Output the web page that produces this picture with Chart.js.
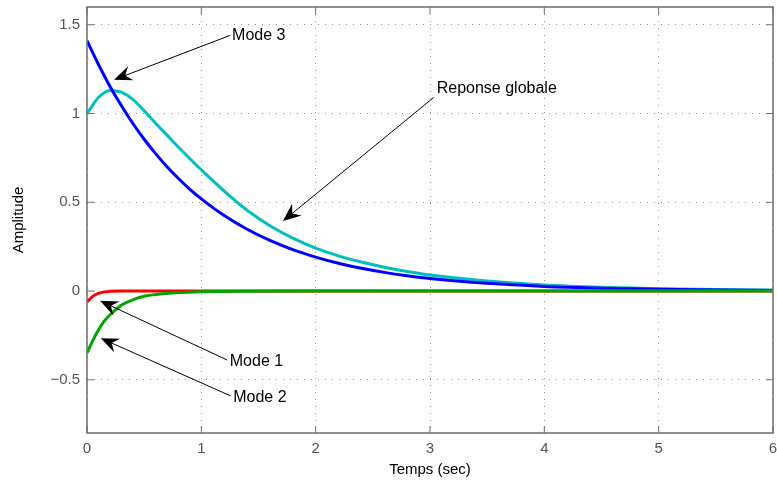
<!DOCTYPE html>
<html>
<head>
<meta charset="utf-8">
<script src="https://cdn.jsdelivr.net/npm/chart.js@4"></script>
<style>
  body { margin: 0; background: #fff; }
  #canvas { display: block; }
</style>
</head>
<body>
<canvas id="canvas" width="777" height="483"></canvas>
<script>
// values
const tGlobal = [0, 0.1, 0.2, 0.3, 0.4, 0.5, 0.6, 0.7, 0.8, 0.9, 1.0, 1.2, 1.4, 1.6, 1.8, 2.0, 2.2, 2.4, 2.6, 2.8, 3.0, 3.5, 4.0, 4.5, 5.0, 5.5, 6.0];
const reponseGlobale = [1.00, 1.09, 1.13, 1.12, 1.08, 1.015, 0.945, 0.878, 0.81, 0.745, 0.682, 0.563, 0.455, 0.368, 0.298, 0.242, 0.198, 0.163, 0.134, 0.11, 0.09, 0.056, 0.034, 0.021, 0.013, 0.008, 0.005];
const mode3 = [1.41, 1.276, 1.154, 1.045, 0.945, 0.855, 0.774, 0.700, 0.634, 0.573, 0.519, 0.425, 0.348, 0.285, 0.233, 0.191, 0.156, 0.128, 0.105, 0.086, 0.070, 0.043, 0.026, 0.016, 0.0095, 0.0058, 0.0035];

const tFast = [0, 0.05, 0.1, 0.15, 0.2, 0.3, 0.4, 0.5, 0.6, 0.8, 1.0, 1.5, 2.0, 3.0, 4.0, 5.0, 6.0];
const mode1 = [-0.062, -0.03, -0.013, -0.005, -0.002, 0, 0, 0, 0, 0, 0, 0, 0, 0, 0, 0, 0];
const mode2 = [-0.35, -0.28, -0.22, -0.17, -0.135, -0.08, -0.05, -0.03, -0.02, -0.009, -0.004, -0.001, 0, 0, 0, 0, 0];

const xTicks = [0, 1, 2, 3, 4, 5, 6];
const yTicks = [-0.5, 0, 0.5, 1, 1.5];

// annotation text: label, text anchor [t, amplitude], arrow tip [t, amplitude]
const notes = [
  { text: "Mode 3", at: [1.26, 1.44], tip: [0.236, 1.19] },
  { text: "Reponse globale", at: [3.05, 1.14], tip: [1.714, 0.394], from: [3.04, 1.09] },
  { text: "Mode 1", at: [1.24, -0.40], tip: [0.114, -0.055], from: [1.235, -0.389] },
  { text: "Mode 2", at: [1.27, -0.60], tip: [0.12, -0.266], from: [1.266, -0.591] }
];

function pts(xs, ys) {
  return xs.map((x, i) => ({ x: x, y: ys[i] }));
}

const boxPlugin = {
  id: 'box',
  afterDatasetsDraw(chart) {
    const ctx = chart.ctx;
    const a = chart.chartArea;
    const xs = chart.scales.x, ys = chart.scales.y;
    ctx.save();
    ctx.strokeStyle = '#6e6e6e';
    ctx.lineWidth = 1.5;
    ctx.strokeRect(a.left, a.top, a.right - a.left, a.bottom - a.top);
    ctx.lineWidth = 1;
    ctx.beginPath();
    xTicks.forEach(v => {
      const px = xs.getPixelForValue(v);
      ctx.moveTo(px, a.bottom); ctx.lineTo(px, a.bottom - 7);
      ctx.moveTo(px, a.top); ctx.lineTo(px, a.top + 7);
    });
    yTicks.forEach(v => {
      const py = ys.getPixelForValue(v);
      ctx.moveTo(a.left, py); ctx.lineTo(a.left + 7, py);
      ctx.moveTo(a.right, py); ctx.lineTo(a.right - 7, py);
    });
    ctx.stroke();
    ctx.restore();
  },
  afterDraw(chart) {
    const ctx = chart.ctx;
    const xs = chart.scales.x, ys = chart.scales.y;
    ctx.save();
    ctx.font = '16px "Liberation Sans", Arial, sans-serif';
    ctx.textBaseline = 'middle';
    ctx.fillStyle = '#000';
    ctx.strokeStyle = '#000';
    notes.forEach(n => {
      const tx = xs.getPixelForValue(n.at[0]), ty = ys.getPixelForValue(n.at[1]);
      const f = n.from || n.at;
      const x0 = xs.getPixelForValue(f[0]) - 1, y0 = ys.getPixelForValue(f[1]);
      const x1 = xs.getPixelForValue(n.tip[0]), y1 = ys.getPixelForValue(n.tip[1]);
      const ang = Math.atan2(y1 - y0, x1 - x0);
      ctx.lineWidth = 1;
      ctx.beginPath();
      ctx.moveTo(x0, y0);
      ctx.lineTo(x1 - 10 * Math.cos(ang), y1 - 10 * Math.sin(ang));
      ctx.stroke();
      ctx.save();
      ctx.translate(x1, y1);
      ctx.rotate(ang);
      ctx.beginPath();
      ctx.moveTo(0, 0);
      ctx.lineTo(-18, -7.5);
      ctx.lineTo(-12, 0);
      ctx.lineTo(-18, 7.5);
      ctx.closePath();
      ctx.fill();
      ctx.restore();
      ctx.fillText(n.text, tx + 1, ty);
    });
    ctx.restore();
  }
};

const ctx = document.getElementById('canvas').getContext('2d');
new Chart(ctx, {
  type: 'line',
  data: {
    datasets: [
      { label: 'Mode 2', data: pts(tFast, mode2), borderColor: '#00a600', borderWidth: 3, cubicInterpolationMode: 'monotone' },
      { label: 'Mode 1', data: pts(tFast, mode1), borderColor: '#ff0000', borderWidth: 3, cubicInterpolationMode: 'monotone' },
      { label: 'Mode 3', data: pts(tGlobal, mode3), borderColor: '#0000ff', borderWidth: 3, cubicInterpolationMode: 'monotone' },
      { label: 'Reponse globale', data: pts(tGlobal, reponseGlobale), borderColor: '#00bfbf', borderWidth: 3, cubicInterpolationMode: 'monotone' }
    ]
  },
  options: {
    responsive: false,
    animation: false,
    devicePixelRatio: 1,
    layout: { padding: { top: 7, right: 4, left: 0, bottom: 0 } },
    elements: { point: { radius: 0 }, line: { tension: 0, fill: false } },
    plugins: { legend: { display: false }, tooltip: { enabled: false } },
    scales: {
      x: {
        type: 'linear', min: 0, max: 6,
        afterBuildTicks: s => { s.ticks = xTicks.map(v => ({ value: v })); },
        afterFit: s => { s.height = 50; s.paddingLeft = 0; s.paddingRight = 0; },
        grid: { color: 'rgba(0,0,0,0.45)', lineWidth: 1, drawTicks: false },
        border: { display: false, dash: [1, 6] },
        ticks: { color: '#555', font: { family: '"Liberation Sans", Arial', size: 15 }, padding: 7, maxRotation: 0 },
        title: { display: true, text: 'Temps (sec)', color: '#000', font: { family: '"Liberation Sans", Arial', size: 15 }, padding: { top: 1 } }
      },
      y: {
        type: 'linear', min: -0.8, max: 1.6,
        afterBuildTicks: s => { s.ticks = yTicks.map(v => ({ value: v })); },
        afterFit: s => { s.width = 87; s.paddingTop = 0; s.paddingBottom = 0; },
        grid: { color: 'rgba(0,0,0,0.45)', lineWidth: 1, drawTicks: false },
        border: { display: false, dash: [1, 6] },
        ticks: {
          color: '#555', font: { family: '"Liberation Sans", Arial', size: 15 }, padding: 7,
          callback: v => (v < 0 ? '\u2212' + Math.abs(v) : String(v))
        },
        title: { display: true, text: 'Amplitude', color: '#000', font: { family: '"Liberation Sans", Arial', size: 15 }, padding: { top: 10, bottom: 2 } }
      }
    }
  },
  plugins: [boxPlugin]
});
</script>
</body>
</html>
